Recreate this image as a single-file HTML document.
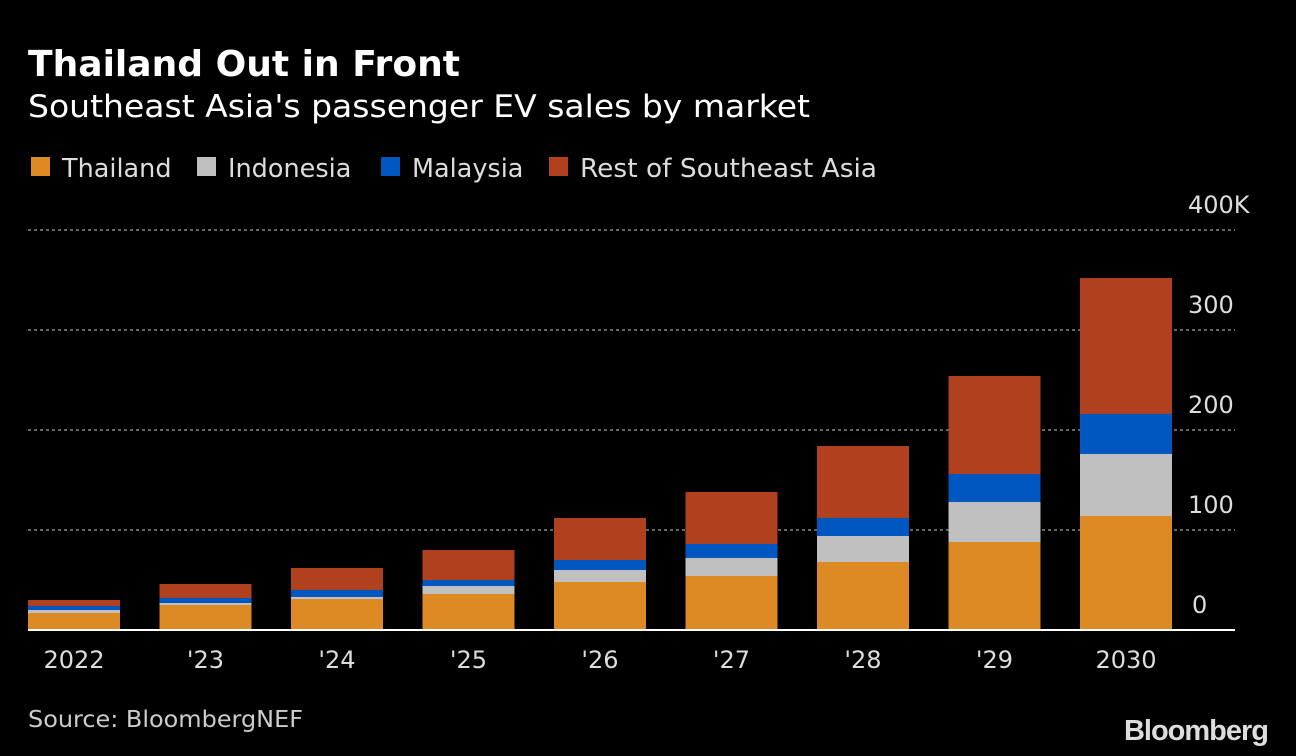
<!DOCTYPE html>
<html><head><meta charset="utf-8"><style>
body{margin:0;background:#000;width:1296px;height:756px;overflow:hidden;font-family:"DejaVu Sans",sans-serif;color:#fff}
svg{position:absolute;left:0;top:0}
</style></head><body>
<svg width="1296" height="756" font-family="DejaVu Sans, sans-serif">
<text x="28" y="76" font-size="36" font-weight="bold" fill="#fff" textLength="432" lengthAdjust="spacingAndGlyphs">Thailand Out in Front</text>
<text x="28" y="117" font-size="31" fill="#fff" textLength="782" lengthAdjust="spacingAndGlyphs">Southeast Asia's passenger EV sales by market</text>
<g font-size="25.5" fill="#ddd">
<rect x="31" y="157" width="19" height="19" fill="#dd8a25"/><text x="62" y="177">Thailand</text>
<rect x="197" y="157" width="19" height="19" fill="#c0c0c0"/><text x="228" y="177">Indonesia</text>
<rect x="381" y="157" width="19" height="19" fill="#0057c0"/><text x="412" y="177">Malaysia</text>
<rect x="549" y="157" width="19" height="19" fill="#b1401e"/><text x="580" y="177" textLength="297" lengthAdjust="spacingAndGlyphs">Rest of Southeast Asia</text>
</g>
<g id="grid"></g><g id="bars"></g><g id="labels"></g>
<line x1="28" x2="1235" y1="630" y2="630" stroke="#fff" stroke-width="2"/>
<text x="28" y="727" font-size="23" fill="#ccc" textLength="275" lengthAdjust="spacingAndGlyphs">Source: BloombergNEF</text>
<text x="1268" y="740" font-size="29" font-weight="bold" fill="#ddd" text-anchor="end" letter-spacing="-1" font-family="Liberation Sans, sans-serif">Bloomberg</text>
</svg>
<script>
const categories=["2022","'23","'24","'25","'26","'27","'28","'29","2030"];
const thailand=[17,25,31,36,48,54,68,88,114];
const indonesia=[3,2,2,8,12,18,26,40,62];
const malaysia=[4,5,7,6,10,14,18,28,40];
const rest=[6,14,22,30,42,52,72,98,136];
const yTicks=[0,100,200,300,400];
const yTickLabels=["0","100","200","300","400K"];
const NS="http://www.w3.org/2000/svg";
const y=v=>630-v*1.0;
const x=i=>28+i*131.5;
const bw=92;
const grid=document.getElementById('grid'),bars=document.getElementById('bars'),labels=document.getElementById('labels');
yTicks.forEach((t,i)=>{
 if(t>0){const l=document.createElementNS(NS,'line');
 l.setAttribute('x1',28);l.setAttribute('x2',1235);l.setAttribute('y1',y(t));l.setAttribute('y2',y(t));
 l.setAttribute('stroke','#888');l.setAttribute('stroke-dasharray','3,3');l.setAttribute('stroke-width','1.5');
 
 
 grid.appendChild(l);}
 const tx=document.createElementNS(NS,'text');
 tx.setAttribute('x',t===0?1192:1188);tx.setAttribute('y',y(t)-17);
 tx.setAttribute('font-size','24');tx.setAttribute('fill','#ddd');tx.textContent=yTickLabels[i];
 
 
 labels.appendChild(tx);
});
const series=[[thailand,'#dd8a25','thailand'],[indonesia,'#c0c0c0','indonesia'],[malaysia,'#0057c0','malaysia'],[rest,'#b1401e','rest']];
categories.forEach((c,i)=>{
 let base=0;
 series.forEach(([arr,col,nm])=>{
  const r=document.createElementNS(NS,'rect');
  r.setAttribute('x',x(i));r.setAttribute('width',bw);
  r.setAttribute('y',y(base+arr[i]));r.setAttribute('height',y(base)-y(base+arr[i]));
  r.setAttribute('fill',col);
  
  
  bars.appendChild(r);base+=arr[i];
 });
 const t=document.createElementNS(NS,'text');
 t.setAttribute('x',x(i)+bw/2);t.setAttribute('y',668);t.setAttribute('text-anchor','middle');
 t.setAttribute('font-size','24');t.setAttribute('fill','#ddd');t.textContent=c;
 
 
 labels.appendChild(t);
});
</script>
</body></html>
